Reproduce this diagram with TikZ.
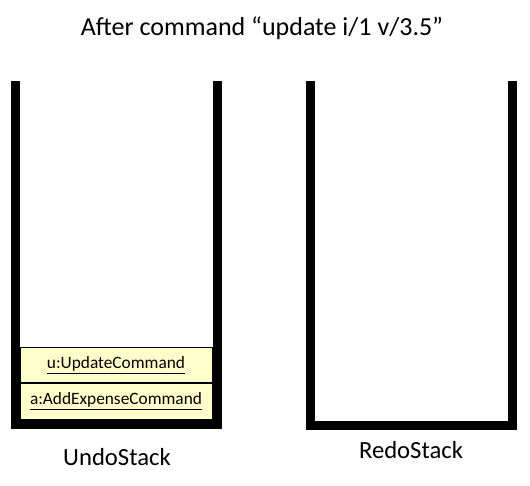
\documentclass[tikz,border=0pt]{standalone}
\usepackage{fontspec}
\setmainfont{Carlito}
\usepackage{tikz}
\usetikzlibrary{positioning}
\definecolor{CmdYellow}{HTML}{FFFFCC}
\tikzstyle{stackwall} = [line width=9*0.75pt,
line join=miter,
draw=black]
\tikzstyle{cmdbox} = [rectangle,
minimum width=192*0.75pt,
minimum height=35.5*0.75pt,
inner sep=0pt,
text centered,
draw=black,
line width=0.6pt,
fill=CmdYellow,
font=\fontsize{13pt}{15pt}\selectfont]
\tikzstyle{stacklabel} = [font=\fontsize{18.5pt}{22pt}\selectfont]
\tikzstyle{titletext} = [font=\fontsize{19.5pt}{23pt}\selectfont]

\begin{document}
\begin{tikzpicture}[x=0.75pt,y=-0.75pt]
                \useasboundingbox (0,0) rectangle (530,485);
                \node[titletext] (title) at (262,28) {After command “update i/1 v/3.5”};

                % undo stack
                \draw[stackwall] (15.5,81) -- (15.5,424.5) -- (217.5,424.5) -- (217.5,81);
                \node[cmdbox] (upd) at (116,365) {\underline{u:UpdateCommand}};
                \node[cmdbox, below=0pt of upd] (add) {\underline{a:AddExpenseCommand}};
                \node[stacklabel] (undo) at (117,457) {UndoStack};

                % redo stack
                \draw[stackwall] (310.5,81) -- (310.5,425) -- (512.5,425) -- (512.5,81);
                \node[stacklabel] (redo) at (411,450) {RedoStack};
            \end{tikzpicture}
\end{document}
